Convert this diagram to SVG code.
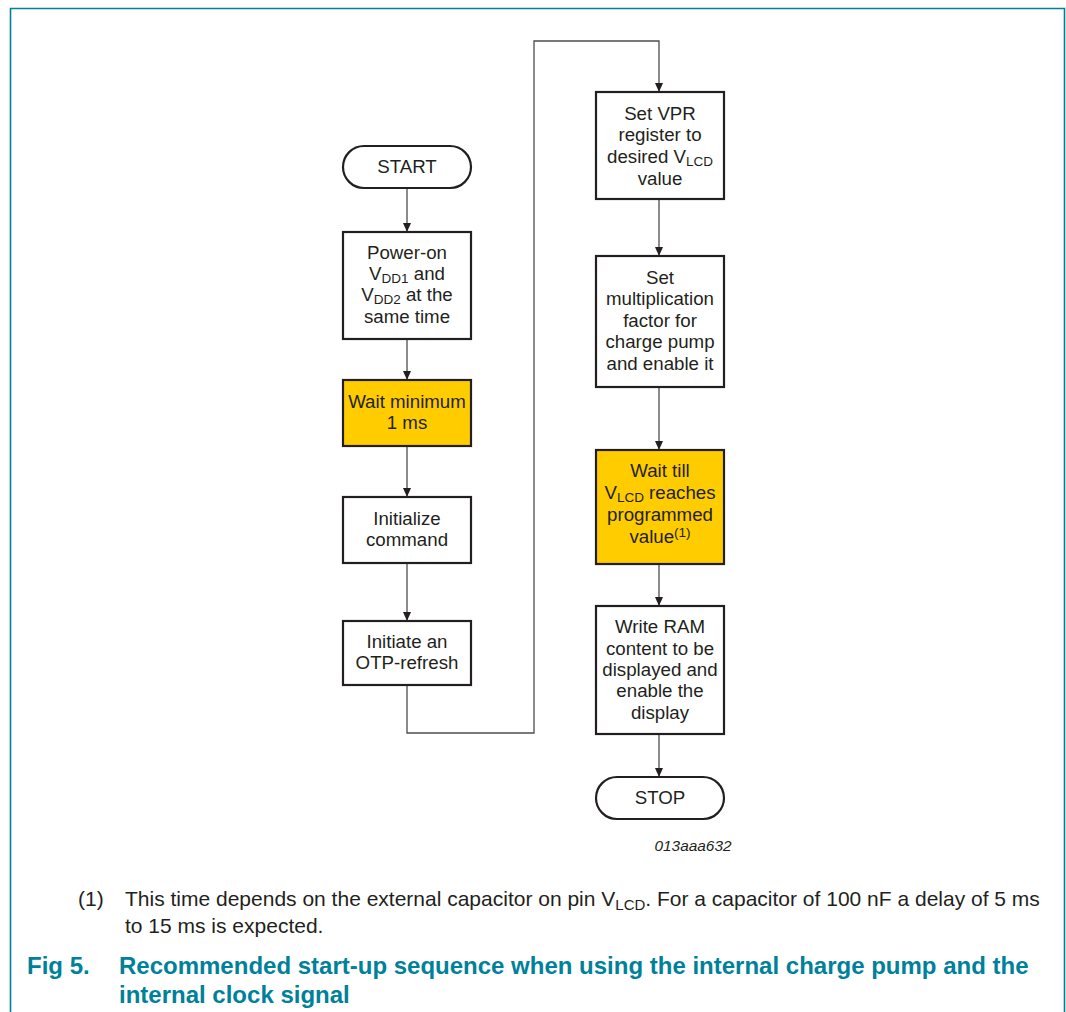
<svg xmlns="http://www.w3.org/2000/svg" width="1066" height="1012" viewBox="0 0 1066 1012">
<defs>
<marker id="ah" markerWidth="9" markerHeight="10" refX="9" refY="5" orient="auto" markerUnits="userSpaceOnUse">
<path d="M0,1 L9,5 L0,9 Z" fill="#231f20"/>
</marker>
</defs>
<style>
.box{fill:#ffffff;stroke:#231f20;stroke-width:2.2}
.hl{fill:#ffcc00;stroke:#231f20;stroke-width:2.2}
.t{font-family:"Liberation Sans",Arial,sans-serif;font-size:18.7px;fill:#231f20;text-anchor:middle}
.sub{font-size:13.5px}
.con{fill:none;stroke:#4d4d4d;stroke-width:1.3}
.frame{fill:none;stroke:#00819b;stroke-width:1.6}
.note{font-family:"Liberation Sans",Arial,sans-serif;font-size:21px;fill:#231f20}
.cap{font-family:"Liberation Sans",Arial,sans-serif;font-size:24px;font-weight:bold;fill:#00819b}
.code{font-family:"Liberation Sans",Arial,sans-serif;font-size:15.4px;font-style:italic;fill:#231f20;text-anchor:middle}
</style>
<rect width="1066" height="1012" fill="#ffffff"/>
<path class="frame" d="M10.5,1012 V8.5 H1064.5 V1012"/>

<g id="connectors">
<line class="con" x1="407" y1="188" x2="407" y2="232" marker-end="url(#ah)"/>
<line class="con" x1="407" y1="339" x2="407" y2="380" marker-end="url(#ah)"/>
<line class="con" x1="407" y1="446" x2="407" y2="497" marker-end="url(#ah)"/>
<line class="con" x1="407" y1="563" x2="407" y2="621" marker-end="url(#ah)"/>
<path class="con" d="M407,685 V733 H534 V41 H659 V92" marker-end="url(#ah)"/>
<line class="con" x1="659" y1="199" x2="659" y2="256" marker-end="url(#ah)"/>
<line class="con" x1="659" y1="387" x2="659" y2="450" marker-end="url(#ah)"/>
<line class="con" x1="659" y1="564" x2="659" y2="606" marker-end="url(#ah)"/>
<line class="con" x1="659" y1="734" x2="659" y2="777" marker-end="url(#ah)"/>
</g>

<g id="start">
<rect class="box" x="343" y="146" width="128" height="42" rx="21" ry="21"/>
<text class="t" x="407" y="173">START</text>
</g>

<g id="power-on">
<rect class="box" x="343" y="232" width="128" height="107"/>
<text class="t" x="407" y="259">Power-on</text>
<text class="t" x="407" y="280">V<tspan class="sub" dy="3">DD1</tspan><tspan dy="-3"> and</tspan></text>
<text class="t" x="407" y="301">V<tspan class="sub" dy="3">DD2</tspan><tspan dy="-3"> at the</tspan></text>
<text class="t" x="407" y="323">same time</text>
</g>

<g id="wait-1ms">
<rect class="hl" x="343" y="380" width="128" height="66"/>
<text class="t" x="407" y="408">Wait minimum</text>
<text class="t" x="407" y="429">1 ms</text>
</g>

<g id="initialize">
<rect class="box" x="343" y="497" width="128" height="66"/>
<text class="t" x="407" y="525">Initialize</text>
<text class="t" x="407" y="546">command</text>
</g>

<g id="otp-refresh">
<rect class="box" x="343" y="621" width="128" height="64"/>
<text class="t" x="407" y="648">Initiate an</text>
<text class="t" x="407" y="669">OTP-refresh</text>
</g>

<g id="set-vpr">
<rect class="box" x="596" y="92" width="128" height="107"/>
<text class="t" x="660" y="120">Set VPR</text>
<text class="t" x="660" y="141">register to</text>
<text class="t" x="660" y="163">desired V<tspan class="sub" dy="3">LCD</tspan></text>
<text class="t" x="660" y="185">value</text>
</g>

<g id="set-multiplication">
<rect class="box" x="596" y="256" width="128" height="131"/>
<text class="t" x="660" y="284">Set</text>
<text class="t" x="660" y="305">multiplication</text>
<text class="t" x="660" y="327">factor for</text>
<text class="t" x="660" y="348">charge pump</text>
<text class="t" x="660" y="370">and enable it</text>
</g>

<g id="wait-vlcd">
<rect class="hl" x="596" y="450" width="128" height="114"/>
<text class="t" x="660" y="477">Wait till</text>
<text class="t" x="660" y="499">V<tspan class="sub" dy="3">LCD</tspan><tspan dy="-3"> reaches</tspan></text>
<text class="t" x="660" y="521">programmed</text>
<text class="t" x="660" y="543">value<tspan class="sub" dy="-6">(1)</tspan></text>
</g>

<g id="write-ram">
<rect class="box" x="596" y="606" width="128" height="128"/>
<text class="t" x="660" y="633">Write RAM</text>
<text class="t" x="660" y="655">content to be</text>
<text class="t" x="660" y="676">displayed and</text>
<text class="t" x="660" y="697">enable the</text>
<text class="t" x="660" y="719">display</text>
</g>

<g id="stop">
<rect class="box" x="596" y="777" width="128" height="42" rx="21" ry="21"/>
<text class="t" x="660" y="804">STOP</text>
</g>

<text class="code" x="693" y="851">013aaa632</text>

<text class="note" x="78" y="906">(1)</text>
<text class="note" x="125" y="906">This time depends on the external capacitor on pin V<tspan font-size="15px" dy="4">LCD</tspan><tspan dy="-4">. For a capacitor of 100 nF a delay of 5 ms</tspan></text>
<text class="note" x="125" y="933">to 15 ms is expected.</text>

<text class="cap" x="27" y="974">Fig 5.</text>
<text class="cap" x="119" y="974">Recommended start-up sequence when using the internal charge pump and the</text>
<text class="cap" x="119" y="1003">internal clock signal</text>
</svg>
